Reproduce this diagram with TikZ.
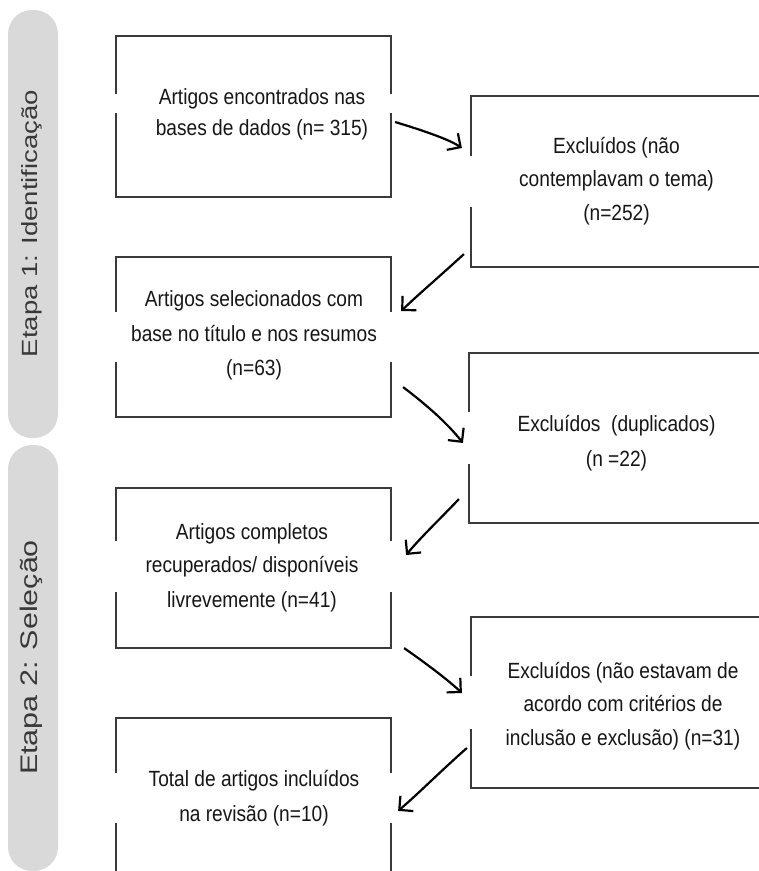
\documentclass[tikz,border=0pt]{standalone}
\usepackage{fontspec}
\setmainfont{Liberation Sans}
\newfontfamily\boxfont{Liberation Sans}[FakeStretch=0.87]
\newfontfamily\labfonta{Liberation Sans}[FakeStretch=1.25]
\newfontfamily\labfontb{Liberation Sans}[FakeStretch=1.27]
\usetikzlibrary{arrows.meta,calc}
\definecolor{pillgray}{HTML}{D9D9D9}
\definecolor{boxline}{HTML}{3A3A3A}
\definecolor{txt}{HTML}{161616}
\begin{document}
\begin{tikzpicture}[x=1pt,y=-1pt,
  pill/.style={fill=pillgray, draw=none, rounded corners=24pt, minimum width=50pt, inner sep=0pt},
  box/.style={draw=boxline, line width=2.2pt, fill=white, inner sep=0pt},
  lbox/.style={box, minimum width=275pt, minimum height=160pt},
  rbox/.style={box, minimum width=340pt},
  gap/.style={fill=white, draw=none},
  ln/.style={anchor=base, inner sep=0pt, text=txt, font=\boxfont\fontsize{22}{24}\selectfont},
  lab/.style={rotate=90, anchor=base, inner sep=0pt, text=txt!85},
  arr/.style={line width=2.2pt, black, -{Straight Barb[length=10pt,width=20pt]}},
]
\useasboundingbox (0,0) rectangle (759,871);
\clip (0,0) rectangle (759,871);

% stage pills
\node[pill, minimum height=428pt] (p1) at (33,224) {};
\node[pill, minimum height=426pt] (p2) at (33,658) {};
\node[lab, font=\labfonta\fontsize{22}{22}\selectfont] (l1) at (37,223.5) {Etapa 1: Identificação};
\node[lab, font=\labfontb\fontsize{24}{24}\selectfont] (l2) at (37.5,657.5) {Etapa 2: Seleção};

% boxes
\node[lbox, minimum height=161pt] (b1) at (253.5,116.5) {};
\node[rbox, minimum height=171pt] (b2) at (641,181.5) {};
\node[lbox] (b3) at (253.5,337) {};
\node[rbox, minimum height=170pt] (b4) at (639,438) {};
\node[lbox] (b5) at (253.5,568) {};
\node[rbox, minimum height=171pt] (b6) at (641,702.5) {};
\node[lbox] (b7) at (253.5,798) {};

% gaps in the side borders
\fill[gap] (112,94) rectangle (120,113);
\fill[gap] (387,94) rectangle (395,113);
\fill[gap] (112,312) rectangle (120,362);
\fill[gap] (387,312) rectangle (395,362);
\fill[gap] (112,541) rectangle (120,592);
\fill[gap] (387,541) rectangle (395,592);
\fill[gap] (112,773) rectangle (120,823);
\fill[gap] (387,773) rectangle (395,823);
\fill[gap] (467,156) rectangle (475,207);
\fill[gap] (465,412) rectangle (473,464);
\fill[gap] (467,676) rectangle (475,729);

% texts
\node[ln] (t1a) at (262,104) {Artigos encontrados nas};
\node[ln] (t1b) at (262,135.5) {bases de dados (n= 315)};

\node[ln] (t2a) at (616.5,153) {Excluídos (não};
\node[ln] (t2b) at (616.5,186.5) {contemplavam o tema)};
\node[ln] (t2c) at (616.5,220) {(n=252)};

\node[ln] (t3a) at (254,306.5) {Artigos selecionados com};
\node[ln] (t3b) at (254,341) {base no título e nos resumos};
\node[ln] (t3c) at (254,375.5) {(n=63)};

\node[ln] (t4a) at (616.5,431.5) {Excluídos\ \ (duplicados)};
\node[ln] (t4b) at (616.5,466.5) {(n =22)};

\node[ln] (t5a) at (252,539) {Artigos completos};
\node[ln] (t5b) at (252,572.5) {recuperados/ disponíveis};
\node[ln] (t5c) at (252,607) {livrevemente (n=41)};

\node[ln] (t6a) at (623,678.5) {Excluídos (não estavam de};
\node[ln] (t6b) at (623,711.5) {acordo com critérios de};
\node[ln] (t6c) at (623,745) {inclusão e exclusão) (n=31)};

\node[ln] (t7a) at (254,786) {Total de artigos incluídos};
\node[ln] (t7b) at (254,821.5) {na revisão (n=10)};

% connectors
\draw[arr] ($(b1.east)+(3,5.5)$) .. controls (428,132) and (450,140) .. ($(b2.west)+(-8,-33.5)$);
\draw[arr] ($(b2.south west)+(-6,-14)$) .. controls (440,276) and (420,293) .. ($(b3.east)+(9,-26)$);
\draw[arr] ($(b3.south east)+(11,-31)$) .. controls (428,406) and (448,424) .. ($(b4.west)+(-5,5)$);
\draw[arr] ($(b4.south west)+(-9,-25)$) .. controls (440,519) and (421,537) .. ($(b5.east)+(14,-13)$);
\draw[arr] ($(b5.south east)+(12,-1)$) .. controls (427,664) and (448,680) .. ($(b6.west)+(-8,-9.5)$);
\draw[arr] ($(b6.west)+(-3,45.5)$) .. controls (444,768) and (418,794) .. ($(b7.north east)+(6,94)$);
\end{tikzpicture}
\end{document}
